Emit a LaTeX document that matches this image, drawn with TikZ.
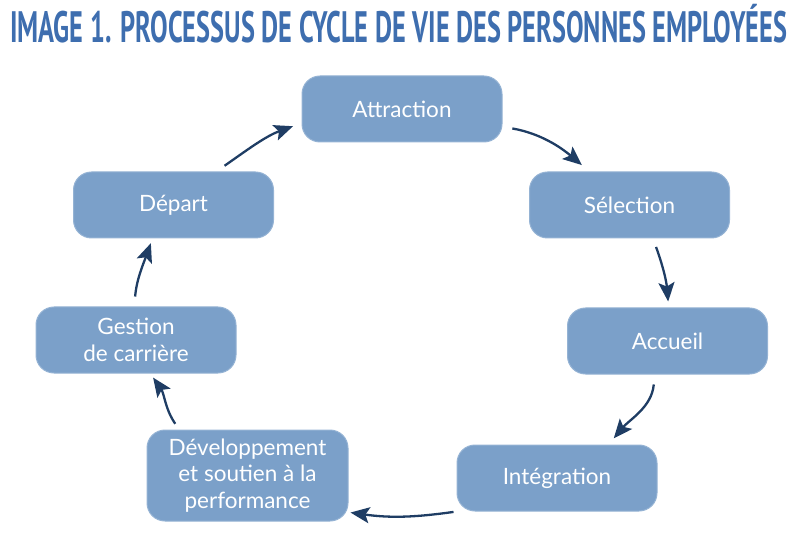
\documentclass[tikz,border=0pt]{standalone}
\usepackage{fontspec}
\usepackage{graphicx}
\usepackage{xcolor}
\usepackage{tikz}
\usetikzlibrary{arrows.meta, positioning}
\newfontfamily\boxfont{Lato}
\newfontfamily\titlefont{PT Sans}
\definecolor{titleblue}{RGB}{62, 110, 175}
\definecolor{stagefill}{RGB}{123, 160, 201}
\definecolor{arrownavy}{RGB}{31, 61, 100}

\begin{document}
\begin{tikzpicture}[
  x=1pt, y=-1pt,
  stage/.style={draw=stagefill!80!white, line width=1pt, fill=stagefill,
    rounded corners=18pt, minimum width=200pt, minimum height=66pt,
    text=white, align=center, font=\boxfont\fontsize{22.5}{26.5}\selectfont},
  cyc/.style={-{Stealth[length=19pt, width=16pt, inset=4pt]}, line width=2.3pt,
    color=arrownavy},
  title/.style={anchor=base west, inner sep=0pt, text=titleblue,
    font=\titlefont\bfseries\fontsize{44}{44}\selectfont}
]
\useasboundingbox (0,0) rectangle (800,534);

% Title
\node[title] (head) at (10,43)
  {\resizebox{777pt}{\height}{IMAGE 1. PROCESSUS DE CYCLE DE VIE DES PERSONNES EMPLOYÉES}};

% Stages of the cycle
\node[stage] (attr) at (402,109) {Attraction};
\node[stage] (sel) at (629.5,205) {Sélection};
\node[stage] (acc) at (667.5,341) {Accueil};
\node[stage] (integ) at (557,478) {Intégration};
\node[stage, minimum width=201pt, minimum height=91pt] (dev) at (247.5,475.5)
  {Développement\\et soutien à la\\performance};
\node[stage] (gest) at (136,340) {Gestion\\de carrière};
\node[stage] (dep) at (173.5,205) {Départ};

% Arrows
\draw[cyc, shorten <=10pt, shorten >=10pt] (attr.-10) to[out=-10, in=140] (sel.140);
\draw[cyc, shorten <=9pt, shorten >=6pt] (sel.-55) to[out=-70, in=95] (acc.88);
\draw[cyc, shorten <=10pt, shorten >=8pt] (acc.-111) to[out=-95, in=50] (integ.33);
\draw[cyc, shorten <=3pt, shorten >=2pt] (integ.south west) to[out=188, in=-8] (dev.-20);
\draw[cyc, shorten <=7pt, shorten >=5pt] (dev.146) to[out=125, in=-55] (gest.-67);
\draw[cyc, shorten <=10pt, shorten >=5pt] (gest.93) to[out=85, in=-110] (dep.-122);
\draw[cyc, shorten <=10pt, shorten >=9pt] (dep.38) to[out=35, in=200] (attr.188);

\end{tikzpicture}
\end{document}
